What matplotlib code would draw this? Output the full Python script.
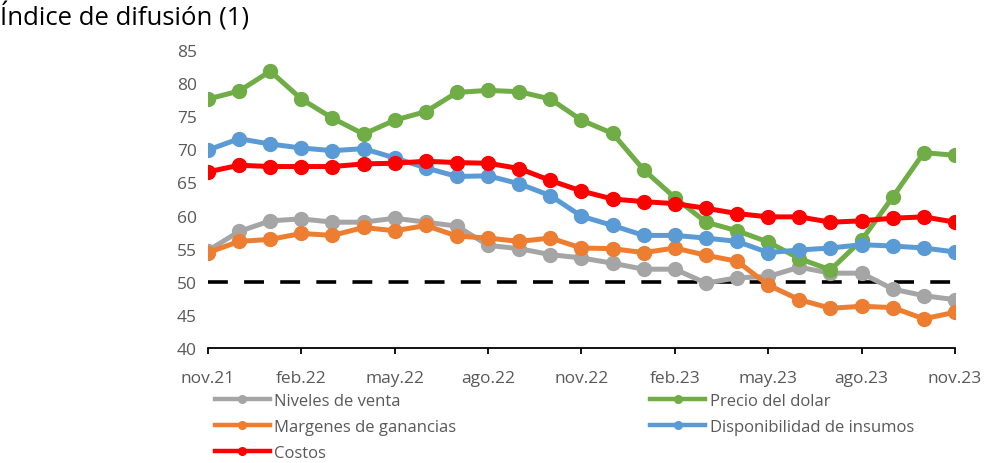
import matplotlib
matplotlib.use("Agg")
import matplotlib.pyplot as plt
from matplotlib.lines import Line2D

months = ["nov.21","dic.21","ene.22","feb.22","mar.22","abr.22","may.22","jun.22","jul.22",
          "ago.22","sep.22","oct.22","nov.22","dic.22","ene.23","feb.23","mar.23","abr.23",
          "may.23","jun.23","jul.23","ago.23","sep.23","oct.23","nov.23"]
tick_labels = ["nov.21","feb.22","may.22","ago.22","nov.22","feb.23","may.23","ago.23","nov.23"]

niveles_venta = [54.7,57.6,59.2,59.5,59.0,59.0,59.6,59.0,58.4,55.5,55.0,54.1,53.6,52.8,51.9,51.9,
                 49.8,50.6,50.8,52.2,51.3,51.3,48.9,47.9,47.3]
precio_dolar = [77.6,78.8,81.8,77.6,74.7,72.3,74.4,75.7,78.6,78.9,78.7,77.6,74.4,72.4,66.9,62.7,
                59.0,57.7,56.0,53.5,51.8,56.3,62.8,69.5,69.1]
margenes = [54.4,56.1,56.4,57.3,57.0,58.2,57.7,58.5,56.9,56.6,56.1,56.6,55.1,55.0,54.4,55.1,
            54.0,53.1,49.5,47.3,46.0,46.3,46.1,44.4,45.4]
disponibilidad = [69.9,71.6,70.8,70.2,69.8,70.1,68.7,67.2,65.9,66.0,64.8,63.0,59.9,58.5,57.0,57.0,
                  56.6,56.1,54.4,54.8,55.1,55.6,55.4,55.1,54.5]
costos = [66.6,67.6,67.4,67.4,67.4,67.8,67.9,68.2,68.0,67.9,67.1,65.3,63.7,62.5,62.1,61.8,
          61.1,60.3,59.8,59.8,59.0,59.2,59.6,59.8,59.0]
umbral = [50]*len(months)

series = [
    ("Niveles de venta", niveles_venta, "#A5A5A5"),
    ("Precio del dolar", precio_dolar, "#70AD47"),
    ("Margenes de ganancias", margenes, "#ED7D31"),
    ("Disponibilidad de insumos", disponibilidad, "#5B9BD5"),
    ("Costos", costos, "#FF0000"),
]

plt.rcParams['font.family'] = ['Open Sans', 'DejaVu Sans']

fig = plt.figure(figsize=(9.87, 4.64), dpi=100)
ax = fig.add_axes([208/987, 1-349/464, (955-208)/987, (349-51)/464])

x = list(range(len(months)))
ax.plot(x, umbral, color="black", lw=2.6, dashes=(5.5, 4.5), zorder=1)
handles = {}
for name, vals, col in series:
    ax.plot(x, vals, color=col, lw=3.6, marker="o", markersize=10, label=name, zorder=2)
    handles[name] = Line2D([], [], color=col, lw=3.2, marker="o", markersize=5.5)

ax.set_xlim(0, len(months)-1)
ax.set_ylim(40, 85)
ax.set_yticks(range(40, 86, 5))
ax.set_xticks(x[::3])
ax.set_xticklabels(tick_labels)
for s in ["top", "right", "left"]:
    ax.spines[s].set_visible(False)
ax.spines["bottom"].set_linewidth(1.3)
ax.tick_params(axis="y", length=0, pad=8, labelsize=12.5, labelcolor="#595959")
ax.tick_params(axis="x", length=4, width=1.3, direction="out", pad=12, labelsize=12.5, labelcolor="#595959")

fig.text(0.0, 1-17/464, "Índice de difusión (1)", fontsize=18.5, va="center", ha="left", color="black")

order = ["Niveles de venta", "Margenes de ganancias", "Costos", "Precio del dolar", "Disponibilidad de insumos"]
leg = fig.legend([handles[n] for n in order], order, ncol=2, loc="upper left",
                 bbox_to_anchor=(215/987, 1-394/464), frameon=False, fontsize=12,
                 handlelength=3.3, handletextpad=0.25, columnspacing=11.65, labelspacing=0.6,
                 borderaxespad=0, borderpad=0)
for t in leg.get_texts():
    t.set_color("#595959")

fig.savefig("out.png", dpi=100)
